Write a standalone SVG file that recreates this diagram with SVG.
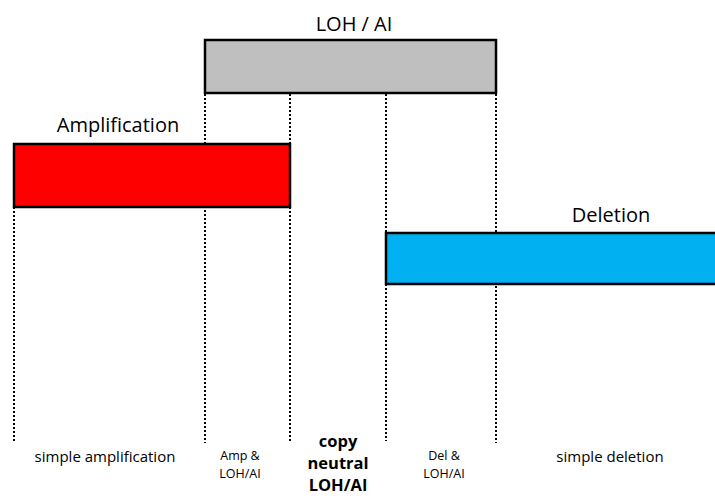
<svg xmlns="http://www.w3.org/2000/svg" width="715" height="499" viewBox="0 0 715 499">
<style>
.bar{stroke:#000;stroke-width:2.5}
.dot{stroke:#000;stroke-width:2;stroke-dasharray:2 2;fill:none}
.lbl{font-family:"Open Sans","Liberation Sans",sans-serif;fill:#000;text-anchor:middle}
.big{font-size:20px}
.sm{font-size:15px}
.xs{font-size:12.5px}
.b{font-size:16.5px;font-weight:bold}
</style>
<rect width="715" height="499" fill="#fff"/>
<g id="connectors">
<line class="dot" x1="14" y1="207" x2="14" y2="443"/>
<line class="dot" x1="205" y1="94" x2="205" y2="443"/>
<line class="dot" x1="290" y1="94" x2="290" y2="144"/>
<line class="dot" x1="290" y1="207" x2="290" y2="441"/>
<line class="dot" x1="386" y1="94" x2="386" y2="233"/>
<line class="dot" x1="386" y1="284" x2="386" y2="441"/>
<line class="dot" x1="496" y1="94" x2="496" y2="443"/>
</g>
<g id="loh">
<rect class="bar" x="205" y="40" width="291" height="53" fill="#bfbfbf"/>
<text class="lbl big" x="354" y="31">LOH / AI</text>
</g>
<g id="amplification">
<rect class="bar" x="14" y="144" width="276" height="63" fill="#ff0000"/>
<text class="lbl big" x="118" y="132">Amplification</text>
</g>
<g id="deletion">
<rect class="bar" x="386" y="233" width="332" height="51" fill="#00b0f0"/>
<text class="lbl big" x="611" y="222">Deletion</text>
</g>
<g id="regions">
<text class="lbl sm" x="105" y="462">simple amplification</text>
<text class="lbl xs" x="240" y="460">Amp &amp;</text>
<text class="lbl xs" x="240" y="478">LOH/AI</text>
<text class="lbl b" x="338" y="447">copy</text>
<text class="lbl b" x="338" y="469">neutral</text>
<text class="lbl b" x="338" y="491">LOH/AI</text>
<text class="lbl xs" x="444" y="460">Del &amp;</text>
<text class="lbl xs" x="444" y="478">LOH/AI</text>
<text class="lbl sm" x="610" y="462">simple deletion</text>
</g>
</svg>
